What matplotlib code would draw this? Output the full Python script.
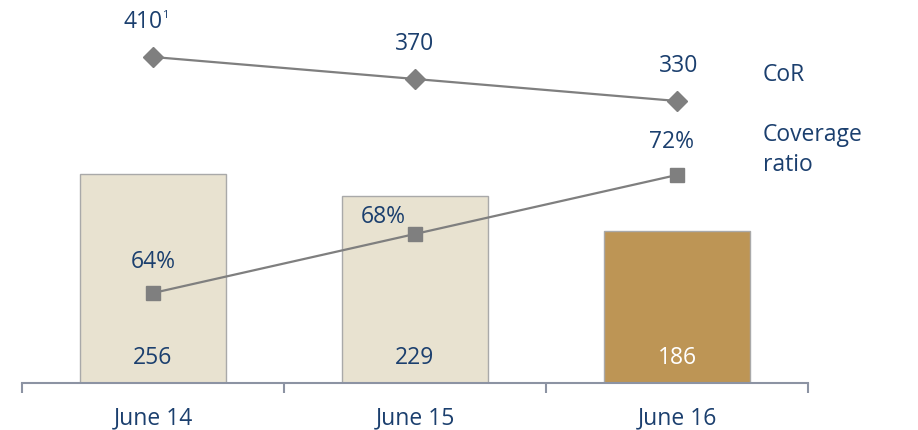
import matplotlib.pyplot as plt
from matplotlib.ticker import FixedLocator

# Data
periods = ['June 14', 'June 15', 'June 16']
npl = [256, 229, 186]
cor = [410, 370, 330]
cov = [64, 68, 72]

navy = '#1B3F6E'
grey_line = '#7F7F7F'
bar_fill = ['#E8E2D0', '#E8E2D0', '#BD9555']
axis_col = '#8C93A3'

plt.rcParams['font.family'] = ['Open Sans', 'DejaVu Sans']
fs = 16.5

fig = plt.figure(figsize=(9.18, 4.30), dpi=100)
W, H = 918, 430
left, right = 22 / W, 808 / W
bottom = (H - 383) / H
ax = fig.add_axes([left, bottom, right - left, 1 - bottom])

x = list(range(len(periods)))

# Bars (NPL stock)
ax.bar(x, npl, width=0.557, color=bar_fill, edgecolor='#A9A9A9', linewidth=1, zorder=1)
ax.set_xlim(-0.5, 2.5)
ax.set_ylim(0, 469)
for i, v in enumerate(npl):
    ax.text(i, 31, str(v), ha='center', va='center', fontsize=fs,
            color='white' if i == 2 else navy, zorder=5)

# Coverage ratio axis
ax_cov = ax.twinx()
ax_cov.set_ylim(57.9, 83.86)
ax_cov.plot(x, cov, color=grey_line, lw=1.6, marker='s', ms=10,
            mfc=grey_line, mec=grey_line, zorder=3)
cov_off = [(0, 31), (-32, 17), (-5, 33)]
for i, v in enumerate(cov):
    ax_cov.annotate(f'{v}%', (i, v), xytext=cov_off[i], textcoords='offset pixels',
                    ha='center', va='center', fontsize=fs, color=navy)

# CoR axis
ax_cor = ax.twinx()
ax_cor.set_ylim(-182.7, 513.6)
ax_cor.plot(x, cor, color=grey_line, lw=1.6, marker='D', ms=10,
            mfc=grey_line, mec=grey_line, zorder=3)
cor_off = [(-10, 35), (0, 35), (2, 35)]
for i, v in enumerate(cor):
    ax_cor.annotate(str(v), (i, v), xytext=cor_off[i], textcoords='offset pixels',
                    ha='center', va='center', fontsize=fs, color=navy)
ax_cor.annotate('1', (0, cor[0]), xytext=(9, 41), textcoords='offset pixels',
                ha='left', va='center', fontsize=8, color=navy)

for a in (ax, ax_cov, ax_cor):
    for s in ('top', 'right', 'left'):
        a.spines[s].set_visible(False)
    a.set_yticks([])
ax_cov.spines['bottom'].set_visible(False)
ax_cor.spines['bottom'].set_visible(False)

ax.spines['bottom'].set_color(axis_col)
ax.spines['bottom'].set_linewidth(1.5)
ax.set_xticks(x)
ax.set_xticklabels(periods, fontsize=fs, color=navy)
ax.tick_params(axis='x', which='major', length=0, pad=17)
ax.xaxis.set_minor_locator(FixedLocator([-0.5, 0.5, 1.5, 2.5]))
ax.tick_params(axis='x', which='minor', length=7.5, width=1.5, color=axis_col, direction='out')

# Series names on the right
fig.text(763 / W, 1 - 75 / H, 'CoR', fontsize=fs, color=navy, va='center', ha='left')
fig.text(763 / W, 1 - 150 / H, 'Coverage\nratio', fontsize=fs, color=navy,
         va='center', ha='left', linespacing=1.3)

fig.savefig('out.png', dpi=100)
